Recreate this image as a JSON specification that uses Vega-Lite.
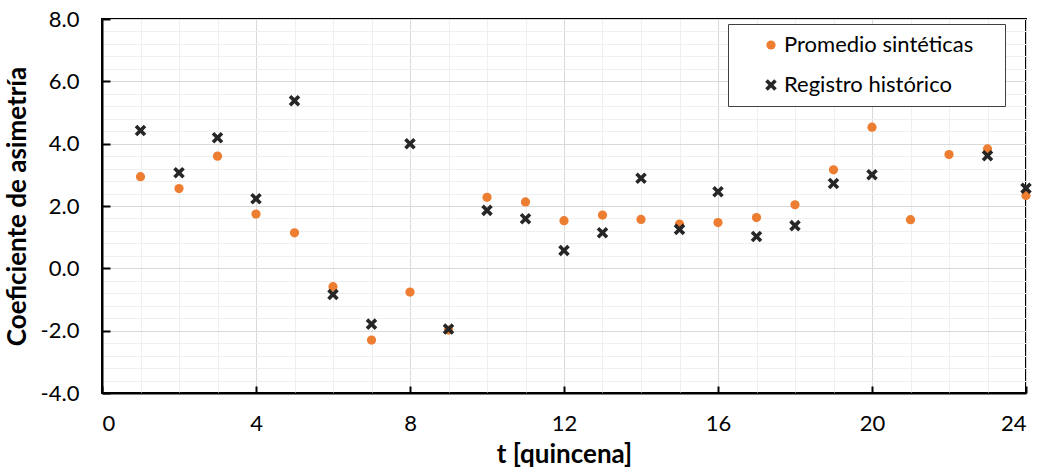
{
  "$schema": "https://vega.github.io/schema/vega-lite/v6.json",
  "autosize": "none",
  "width": 924,
  "height": 374,
  "padding": {"left": 102, "top": 19, "right": 16, "bottom": 77},
  "background": "white",
  "config": {
    "font": "Lato",
    "view": {"stroke": "#000000", "strokeWidth": 2},
    "axis": {"labelFont": "Lato", "titleFont": "Lato"}
  },
  "data": {
    "values": [
      {"t": 1, "serie": "Promedio sintéticas", "v": 2.94},
      {"t": 2, "serie": "Promedio sintéticas", "v": 2.56},
      {"t": 3, "serie": "Promedio sintéticas", "v": 3.6},
      {"t": 4, "serie": "Promedio sintéticas", "v": 1.74},
      {"t": 5, "serie": "Promedio sintéticas", "v": 1.14},
      {"t": 6, "serie": "Promedio sintéticas", "v": -0.59},
      {"t": 7, "serie": "Promedio sintéticas", "v": -2.3},
      {"t": 8, "serie": "Promedio sintéticas", "v": -0.76},
      {"t": 9, "serie": "Promedio sintéticas", "v": -1.98},
      {"t": 10, "serie": "Promedio sintéticas", "v": 2.28},
      {"t": 11, "serie": "Promedio sintéticas", "v": 2.13},
      {"t": 12, "serie": "Promedio sintéticas", "v": 1.53},
      {"t": 13, "serie": "Promedio sintéticas", "v": 1.71},
      {"t": 14, "serie": "Promedio sintéticas", "v": 1.57},
      {"t": 15, "serie": "Promedio sintéticas", "v": 1.42},
      {"t": 16, "serie": "Promedio sintéticas", "v": 1.47},
      {"t": 17, "serie": "Promedio sintéticas", "v": 1.63},
      {"t": 18, "serie": "Promedio sintéticas", "v": 2.04},
      {"t": 19, "serie": "Promedio sintéticas", "v": 3.16},
      {"t": 20, "serie": "Promedio sintéticas", "v": 4.53},
      {"t": 21, "serie": "Promedio sintéticas", "v": 1.56},
      {"t": 22, "serie": "Promedio sintéticas", "v": 3.65},
      {"t": 23, "serie": "Promedio sintéticas", "v": 3.83},
      {"t": 24, "serie": "Promedio sintéticas", "v": 2.34},
      {"t": 1, "serie": "Registro histórico", "v": 4.42},
      {"t": 2, "serie": "Registro histórico", "v": 3.07},
      {"t": 3, "serie": "Registro histórico", "v": 4.19},
      {"t": 4, "serie": "Registro histórico", "v": 2.23},
      {"t": 5, "serie": "Registro histórico", "v": 5.38},
      {"t": 6, "serie": "Registro histórico", "v": -0.84},
      {"t": 7, "serie": "Registro histórico", "v": -1.79},
      {"t": 8, "serie": "Registro histórico", "v": 4.0},
      {"t": 9, "serie": "Registro histórico", "v": -1.95},
      {"t": 10, "serie": "Registro histórico", "v": 1.86},
      {"t": 11, "serie": "Registro histórico", "v": 1.59},
      {"t": 12, "serie": "Registro histórico", "v": 0.57},
      {"t": 13, "serie": "Registro histórico", "v": 1.14},
      {"t": 14, "serie": "Registro histórico", "v": 2.89},
      {"t": 15, "serie": "Registro histórico", "v": 1.25},
      {"t": 16, "serie": "Registro histórico", "v": 2.46},
      {"t": 17, "serie": "Registro histórico", "v": 1.02},
      {"t": 18, "serie": "Registro histórico", "v": 1.37},
      {"t": 19, "serie": "Registro histórico", "v": 2.72},
      {"t": 20, "serie": "Registro histórico", "v": 3.0},
      {"t": 23, "serie": "Registro histórico", "v": 3.61},
      {"t": 24, "serie": "Registro histórico", "v": 2.57}
    ]
  },
  "resolve": {"axis": {"x": "independent", "y": "independent"}},
  "layer": [
    {
      "mark": {"type": "point", "opacity": 0},
      "encoding": {
        "x": {
          "field": "t", "type": "quantitative",
          "scale": {"domain": [0, 24], "nice": false, "zero": false},
          "axis": {"orient": "bottom", "values": [1,2,3,5,6,7,9,10,11,13,14,15,17,18,19,21,22,23], "labels": false, "ticks": false, "domain": false, "grid": true, "gridColor": "#efefef", "gridWidth": 1, "title": null}
        },
        "y": {
          "field": "v", "type": "quantitative",
          "scale": {"domain": [-4, 8], "nice": false, "zero": false},
          "axis": {"orient": "left", "values": [-3.6,-3.2,-2.8,-2.4,-1.6,-1.2,-0.8,-0.4,0.4,0.8,1.2,1.6,2.4,2.8,3.2,3.6,4.4,4.8,5.2,5.6,6.4,6.8,7.2,7.6], "labels": false, "ticks": false, "domain": false, "grid": true, "gridColor": "#efefef", "gridWidth": 1, "title": null}
        }
      }
    },
    {
      "mark": {"type": "point", "filled": true, "opacity": 1, "strokeWidth": 0},
      "encoding": {
        "x": {
          "field": "t", "type": "quantitative",
          "axis": {"orient": "bottom", "values": [0,4,8,12,16,20,24], "grid": true, "gridColor": "#d9d9d9", "gridWidth": 1,
            "domainColor": "#000000", "domainWidth": 2, "tickColor": "#000000", "tickWidth": 2, "tickSize": -7,
            "labelFontSize": 22, "labelColor": "#000000", "labelPadding": 27,
            "title": "t [quincena]", "titleFontSize": 26, "titleFontWeight": "bold", "titleColor": "#000000", "titlePadding": 7}
        },
        "y": {
          "field": "v", "type": "quantitative",
          "axis": {"orient": "left", "values": [-4,-2,0,2,4,6,8],
            "labelExpr": "datum.value < 0 ? '-' + format(-datum.value, '.1f') : format(datum.value, '.1f')",
            "grid": true, "gridColor": "#d9d9d9", "gridWidth": 1,
            "domainColor": "#000000", "domainWidth": 2, "tickColor": "#000000", "tickWidth": 2, "tickSize": -8,
            "labelFontSize": 22, "labelColor": "#000000", "labelPadding": 31,
            "title": "Coeficiente de asimetría", "titleFontSize": 26, "titleFontWeight": "bold", "titleColor": "#000000", "titlePadding": 10}
        },
        "color": {
          "field": "serie", "type": "nominal",
          "scale": {"domain": ["Promedio sintéticas", "Registro histórico"], "range": ["#ED7D31", "#262626"]},
          "legend": {
            "orient": "none", "legendX": 626, "legendY": 5,
            "title": "\u00a0", "titleOrient": "right", "titleFontSize": 22, "titlePadding": 22,
            "strokeColor": "#404040", "fillColor": "white",
            "padding": 10, "rowPadding": 18, "labelFontSize": 22, "labelColor": "#000000", "labelFont": "Lato", "labelLimit": 400,
            "symbolSize": 85, "symbolOffset": 22, "labelOffset": 2, "symbolStrokeWidth": 0
          }
        },
        "shape": {
          "field": "serie", "type": "nominal",
          "scale": {"domain": ["Promedio sintéticas", "Registro histórico"], "range": ["circle", "M-1.25,-0.7L-0.7,-1.25L0,-0.55L0.7,-1.25L1.25,-0.7L0.55,0L1.25,0.7L0.7,1.25L0,0.55L-0.7,1.25L-1.25,0.7L-0.55,0Z"]}
        },
        "size": {"value": 85}
      }
    }
  ]
}
